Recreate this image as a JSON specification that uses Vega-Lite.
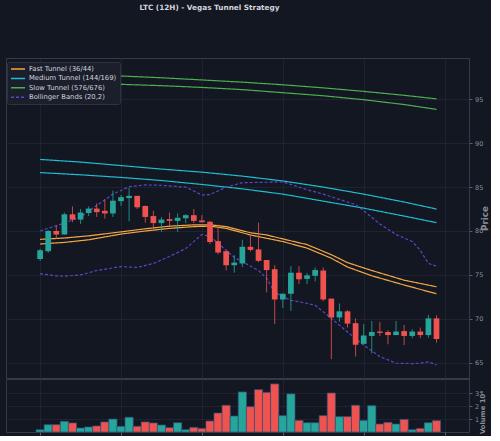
{
  "$schema": "https://vega.github.io/schema/vega-lite/v6.json",
  "background": "#131722",
  "padding": {"left": 5, "top": 4, "right": 0, "bottom": 0},
  "title": {"text": "LTC (12H) - Vegas Tunnel Strategy", "color": "#d1d4dc", "fontSize": 7.3, "fontWeight": "bold", "font": "DejaVu Sans", "anchor": "start", "dx": 134, "offset": 46},
  "spacing": -1,
  "config": {
    "view": {"stroke": "#363a45", "fill": "#131722"},
    "axis": {"labelFont": "DejaVu Sans", "titleFont": "DejaVu Sans", "labelColor": "#8a8d96", "titleColor": "#8a8d96", "labelFontSize": 6.5, "tickColor": "#5d606b", "tickSize": 3, "domainColor": "#363a45", "gridColor": "#232733", "gridWidth": 0.8},
    "legend": {"orient": "none", "legendX": 1, "legendY": 4, "fillColor": "#1b1f2b", "strokeColor": "#2e3240", "padding": 3, "labelColor": "#d1d4dc", "labelFontSize": 6.8, "labelFont": "DejaVu Sans", "symbolType": "M-1,0H3.67", "symbolSize": 36, "symbolStrokeWidth": 1.5, "rowPadding": 1.4, "labelOffset": 11, "cornerRadius": 2}
  },
  "datasets": {
    "candles": [
      {"i":0,"o":76.8,"h":77.95,"l":76.6,"c":77.8,"v":0.18},
      {"i":1,"o":77.7,"h":80.1,"l":77.5,"c":80.0,"v":0.57},
      {"i":2,"o":80.0,"h":80.6,"l":79.1,"c":79.6,"v":0.57},
      {"i":3,"o":79.6,"h":82.1,"l":79.6,"c":81.9,"v":0.83},
      {"i":4,"o":81.9,"h":82.8,"l":81.0,"c":81.3,"v":0.70},
      {"i":5,"o":81.3,"h":82.5,"l":80.8,"c":82.1,"v":0.31},
      {"i":6,"o":82.05,"h":82.8,"l":81.7,"c":82.55,"v":0.39},
      {"i":7,"o":82.55,"h":83.15,"l":81.6,"c":82.15,"v":0.47},
      {"i":8,"o":82.3,"h":83.6,"l":81.4,"c":82.0,"v":0.78},
      {"i":9,"o":82.0,"h":84.6,"l":81.6,"c":83.45,"v":1.0},
      {"i":10,"o":83.4,"h":84.1,"l":82.85,"c":83.85,"v":0.44},
      {"i":11,"o":83.75,"h":84.9,"l":81.1,"c":84.0,"v":1.14},
      {"i":12,"o":84.0,"h":84.0,"l":82.5,"c":82.7,"v":0.44},
      {"i":13,"o":82.85,"h":82.9,"l":80.95,"c":81.6,"v":0.78},
      {"i":14,"o":81.7,"h":82.3,"l":80.2,"c":80.9,"v":0.70},
      {"i":15,"o":80.9,"h":81.6,"l":79.9,"c":81.3,"v":0.54},
      {"i":16,"o":81.35,"h":82.1,"l":80.6,"c":81.15,"v":0.34},
      {"i":17,"o":81.15,"h":82.0,"l":79.9,"c":81.5,"v":0.72},
      {"i":18,"o":81.45,"h":81.9,"l":80.9,"c":81.8,"v":0.18},
      {"i":19,"o":81.8,"h":82.5,"l":80.9,"c":81.15,"v":0.36},
      {"i":20,"o":81.2,"h":81.8,"l":80.95,"c":81.0,"v":0.28},
      {"i":21,"o":81.05,"h":81.15,"l":78.5,"c":78.75,"v":0.85},
      {"i":22,"o":78.85,"h":80.75,"l":77.35,"c":77.55,"v":1.47},
      {"i":23,"o":77.7,"h":77.7,"l":75.5,"c":76.1,"v":2.07},
      {"i":24,"o":76.1,"h":77.25,"l":75.25,"c":76.4,"v":1.24},
      {"i":25,"o":76.3,"h":79.0,"l":75.9,"c":78.2,"v":3.1},
      {"i":26,"o":78.2,"h":79.5,"l":77.65,"c":77.85,"v":1.96},
      {"i":27,"o":77.9,"h":80.95,"l":76.45,"c":76.6,"v":3.28},
      {"i":28,"o":76.7,"h":76.7,"l":73.0,"c":75.55,"v":3.07},
      {"i":29,"o":75.65,"h":76.1,"l":69.4,"c":72.2,"v":3.72},
      {"i":30,"o":72.2,"h":72.9,"l":71.25,"c":72.85,"v":1.27},
      {"i":31,"o":72.85,"h":76.0,"l":70.9,"c":75.25,"v":2.95},
      {"i":32,"o":75.25,"h":76.0,"l":73.95,"c":74.5,"v":0.9},
      {"i":33,"o":74.55,"h":75.2,"l":73.95,"c":74.95,"v":0.72},
      {"i":34,"o":74.9,"h":75.85,"l":74.25,"c":75.55,"v":0.72},
      {"i":35,"o":75.5,"h":75.85,"l":72.0,"c":72.2,"v":1.27},
      {"i":36,"o":72.3,"h":72.3,"l":65.4,"c":70.15,"v":3.02},
      {"i":37,"o":70.15,"h":71.75,"l":69.65,"c":70.85,"v":1.19},
      {"i":38,"o":70.85,"h":71.0,"l":69.0,"c":69.45,"v":1.19},
      {"i":39,"o":69.5,"h":70.05,"l":65.7,"c":67.05,"v":2.07},
      {"i":40,"o":67.15,"h":69.4,"l":67.1,"c":68.1,"v":0.9},
      {"i":41,"o":68.05,"h":69.75,"l":66.05,"c":68.5,"v":2.04},
      {"i":42,"o":68.55,"h":69.65,"l":68.05,"c":68.4,"v":0.62},
      {"i":43,"o":68.5,"h":68.7,"l":67.1,"c":68.15,"v":0.75},
      {"i":44,"o":68.15,"h":69.75,"l":68.15,"c":68.55,"v":0.62},
      {"i":45,"o":68.6,"h":69.3,"l":67.0,"c":68.05,"v":0.98},
      {"i":46,"o":68.05,"h":68.8,"l":67.8,"c":68.55,"v":0.18},
      {"i":47,"o":68.55,"h":69.0,"l":67.8,"c":68.15,"v":0.28},
      {"i":48,"o":68.15,"h":70.45,"l":67.85,"c":70.05,"v":0.72},
      {"i":49,"o":70.05,"h":70.4,"l":67.3,"c":67.7,"v":0.88}
    ],
    "lines": [
      {"s":"Fast Tunnel (36/44)","k":"u","i":0,"v":79.05},
      {"s":"Fast Tunnel (36/44)","k":"u","i":3,"v":79.2},
      {"s":"Fast Tunnel (36/44)","k":"u","i":6,"v":79.45},
      {"s":"Fast Tunnel (36/44)","k":"u","i":10,"v":79.9},
      {"s":"Fast Tunnel (36/44)","k":"u","i":13,"v":80.25},
      {"s":"Fast Tunnel (36/44)","k":"u","i":16,"v":80.55},
      {"s":"Fast Tunnel (36/44)","k":"u","i":19,"v":80.7},
      {"s":"Fast Tunnel (36/44)","k":"u","i":21,"v":80.7},
      {"s":"Fast Tunnel (36/44)","k":"u","i":23,"v":80.5},
      {"s":"Fast Tunnel (36/44)","k":"u","i":26,"v":79.8},
      {"s":"Fast Tunnel (36/44)","k":"u","i":28,"v":79.55},
      {"s":"Fast Tunnel (36/44)","k":"u","i":30,"v":79.1},
      {"s":"Fast Tunnel (36/44)","k":"u","i":33,"v":78.45},
      {"s":"Fast Tunnel (36/44)","k":"u","i":36,"v":77.3},
      {"s":"Fast Tunnel (36/44)","k":"u","i":38,"v":76.4},
      {"s":"Fast Tunnel (36/44)","k":"u","i":41,"v":75.5},
      {"s":"Fast Tunnel (36/44)","k":"u","i":45,"v":74.4},
      {"s":"Fast Tunnel (36/44)","k":"u","i":49,"v":73.65},
      {"s":"Fast Tunnel (36/44)","k":"l","i":0,"v":78.52},
      {"s":"Fast Tunnel (36/44)","k":"l","i":3,"v":78.7},
      {"s":"Fast Tunnel (36/44)","k":"l","i":6,"v":79.0},
      {"s":"Fast Tunnel (36/44)","k":"l","i":10,"v":79.65},
      {"s":"Fast Tunnel (36/44)","k":"l","i":13,"v":80.0},
      {"s":"Fast Tunnel (36/44)","k":"l","i":16,"v":80.3},
      {"s":"Fast Tunnel (36/44)","k":"l","i":19,"v":80.5},
      {"s":"Fast Tunnel (36/44)","k":"l","i":21,"v":80.55},
      {"s":"Fast Tunnel (36/44)","k":"l","i":23,"v":80.3},
      {"s":"Fast Tunnel (36/44)","k":"l","i":26,"v":79.55},
      {"s":"Fast Tunnel (36/44)","k":"l","i":28,"v":79.17},
      {"s":"Fast Tunnel (36/44)","k":"l","i":30,"v":78.8},
      {"s":"Fast Tunnel (36/44)","k":"l","i":33,"v":78.05},
      {"s":"Fast Tunnel (36/44)","k":"l","i":36,"v":76.9},
      {"s":"Fast Tunnel (36/44)","k":"l","i":38,"v":75.9},
      {"s":"Fast Tunnel (36/44)","k":"l","i":41,"v":74.9},
      {"s":"Fast Tunnel (36/44)","k":"l","i":45,"v":73.85},
      {"s":"Fast Tunnel (36/44)","k":"l","i":49,"v":72.85},
      {"s":"Medium Tunnel (144/169)","k":"u","i":0,"v":88.15},
      {"s":"Medium Tunnel (144/169)","k":"u","i":5,"v":87.85},
      {"s":"Medium Tunnel (144/169)","k":"u","i":10,"v":87.45},
      {"s":"Medium Tunnel (144/169)","k":"u","i":15,"v":87.05},
      {"s":"Medium Tunnel (144/169)","k":"u","i":20,"v":86.7},
      {"s":"Medium Tunnel (144/169)","k":"u","i":25,"v":86.25},
      {"s":"Medium Tunnel (144/169)","k":"u","i":30,"v":85.7},
      {"s":"Medium Tunnel (144/169)","k":"u","i":35,"v":85.0},
      {"s":"Medium Tunnel (144/169)","k":"u","i":40,"v":84.2},
      {"s":"Medium Tunnel (144/169)","k":"u","i":45,"v":83.3},
      {"s":"Medium Tunnel (144/169)","k":"u","i":49,"v":82.5},
      {"s":"Medium Tunnel (144/169)","k":"l","i":0,"v":86.65},
      {"s":"Medium Tunnel (144/169)","k":"l","i":5,"v":86.4},
      {"s":"Medium Tunnel (144/169)","k":"l","i":10,"v":86.1},
      {"s":"Medium Tunnel (144/169)","k":"l","i":15,"v":85.75},
      {"s":"Medium Tunnel (144/169)","k":"l","i":20,"v":85.3},
      {"s":"Medium Tunnel (144/169)","k":"l","i":25,"v":84.8},
      {"s":"Medium Tunnel (144/169)","k":"l","i":30,"v":84.2},
      {"s":"Medium Tunnel (144/169)","k":"l","i":35,"v":83.4},
      {"s":"Medium Tunnel (144/169)","k":"l","i":40,"v":82.6},
      {"s":"Medium Tunnel (144/169)","k":"l","i":45,"v":81.7},
      {"s":"Medium Tunnel (144/169)","k":"l","i":49,"v":80.95},
      {"s":"Slow Tunnel (576/676)","k":"u","i":0,"v":97.9},
      {"s":"Slow Tunnel (576/676)","k":"u","i":5,"v":97.8},
      {"s":"Slow Tunnel (576/676)","k":"u","i":10,"v":97.65},
      {"s":"Slow Tunnel (576/676)","k":"u","i":15,"v":97.45},
      {"s":"Slow Tunnel (576/676)","k":"u","i":20,"v":97.2},
      {"s":"Slow Tunnel (576/676)","k":"u","i":25,"v":96.95},
      {"s":"Slow Tunnel (576/676)","k":"u","i":30,"v":96.65},
      {"s":"Slow Tunnel (576/676)","k":"u","i":35,"v":96.3},
      {"s":"Slow Tunnel (576/676)","k":"u","i":40,"v":95.9},
      {"s":"Slow Tunnel (576/676)","k":"u","i":45,"v":95.45},
      {"s":"Slow Tunnel (576/676)","k":"u","i":49,"v":95.05},
      {"s":"Slow Tunnel (576/676)","k":"l","i":0,"v":96.9},
      {"s":"Slow Tunnel (576/676)","k":"l","i":5,"v":96.82},
      {"s":"Slow Tunnel (576/676)","k":"l","i":10,"v":96.7},
      {"s":"Slow Tunnel (576/676)","k":"l","i":15,"v":96.55},
      {"s":"Slow Tunnel (576/676)","k":"l","i":20,"v":96.35},
      {"s":"Slow Tunnel (576/676)","k":"l","i":25,"v":96.1},
      {"s":"Slow Tunnel (576/676)","k":"l","i":30,"v":95.75},
      {"s":"Slow Tunnel (576/676)","k":"l","i":35,"v":95.4},
      {"s":"Slow Tunnel (576/676)","k":"l","i":40,"v":94.95},
      {"s":"Slow Tunnel (576/676)","k":"l","i":45,"v":94.4},
      {"s":"Slow Tunnel (576/676)","k":"l","i":49,"v":93.85},
      {"s":"Bollinger Bands (20,2)","k":"u","i":0,"v":80.0},
      {"s":"Bollinger Bands (20,2)","k":"u","i":3,"v":80.9},
      {"s":"Bollinger Bands (20,2)","k":"u","i":5,"v":81.6},
      {"s":"Bollinger Bands (20,2)","k":"u","i":7,"v":82.9},
      {"s":"Bollinger Bands (20,2)","k":"u","i":9,"v":84.2},
      {"s":"Bollinger Bands (20,2)","k":"u","i":11,"v":85.05},
      {"s":"Bollinger Bands (20,2)","k":"u","i":13,"v":85.25},
      {"s":"Bollinger Bands (20,2)","k":"u","i":15,"v":85.2},
      {"s":"Bollinger Bands (20,2)","k":"u","i":18,"v":85.0},
      {"s":"Bollinger Bands (20,2)","k":"u","i":20,"v":84.1},
      {"s":"Bollinger Bands (20,2)","k":"u","i":21,"v":84.15},
      {"s":"Bollinger Bands (20,2)","k":"u","i":23,"v":85.0},
      {"s":"Bollinger Bands (20,2)","k":"u","i":25,"v":85.5},
      {"s":"Bollinger Bands (20,2)","k":"u","i":28,"v":85.55},
      {"s":"Bollinger Bands (20,2)","k":"u","i":30,"v":85.6},
      {"s":"Bollinger Bands (20,2)","k":"u","i":31,"v":85.3},
      {"s":"Bollinger Bands (20,2)","k":"u","i":33,"v":84.7},
      {"s":"Bollinger Bands (20,2)","k":"u","i":35,"v":84.2},
      {"s":"Bollinger Bands (20,2)","k":"u","i":37,"v":83.6},
      {"s":"Bollinger Bands (20,2)","k":"u","i":39,"v":83.0},
      {"s":"Bollinger Bands (20,2)","k":"u","i":40,"v":82.3},
      {"s":"Bollinger Bands (20,2)","k":"u","i":42,"v":80.8},
      {"s":"Bollinger Bands (20,2)","k":"u","i":44,"v":79.6},
      {"s":"Bollinger Bands (20,2)","k":"u","i":46,"v":78.8},
      {"s":"Bollinger Bands (20,2)","k":"u","i":47,"v":77.8},
      {"s":"Bollinger Bands (20,2)","k":"u","i":48,"v":76.3},
      {"s":"Bollinger Bands (20,2)","k":"u","i":49,"v":76.0},
      {"s":"Bollinger Bands (20,2)","k":"l","i":0,"v":75.14},
      {"s":"Bollinger Bands (20,2)","k":"l","i":2,"v":74.9},
      {"s":"Bollinger Bands (20,2)","k":"l","i":3,"v":74.85},
      {"s":"Bollinger Bands (20,2)","k":"l","i":5,"v":75.0},
      {"s":"Bollinger Bands (20,2)","k":"l","i":7,"v":75.5},
      {"s":"Bollinger Bands (20,2)","k":"l","i":10,"v":75.95},
      {"s":"Bollinger Bands (20,2)","k":"l","i":12,"v":75.85},
      {"s":"Bollinger Bands (20,2)","k":"l","i":14,"v":76.3},
      {"s":"Bollinger Bands (20,2)","k":"l","i":16,"v":77.1},
      {"s":"Bollinger Bands (20,2)","k":"l","i":18,"v":78.0},
      {"s":"Bollinger Bands (20,2)","k":"l","i":20,"v":79.6},
      {"s":"Bollinger Bands (20,2)","k":"l","i":21,"v":79.4},
      {"s":"Bollinger Bands (20,2)","k":"l","i":22,"v":78.6},
      {"s":"Bollinger Bands (20,2)","k":"l","i":24,"v":77.0},
      {"s":"Bollinger Bands (20,2)","k":"l","i":27,"v":75.5},
      {"s":"Bollinger Bands (20,2)","k":"l","i":28,"v":74.6},
      {"s":"Bollinger Bands (20,2)","k":"l","i":29,"v":73.0},
      {"s":"Bollinger Bands (20,2)","k":"l","i":31,"v":72.1},
      {"s":"Bollinger Bands (20,2)","k":"l","i":32,"v":71.95},
      {"s":"Bollinger Bands (20,2)","k":"l","i":34,"v":71.55},
      {"s":"Bollinger Bands (20,2)","k":"l","i":36,"v":70.05},
      {"s":"Bollinger Bands (20,2)","k":"l","i":38,"v":68.5},
      {"s":"Bollinger Bands (20,2)","k":"l","i":40,"v":67.0},
      {"s":"Bollinger Bands (20,2)","k":"l","i":42,"v":65.7},
      {"s":"Bollinger Bands (20,2)","k":"l","i":44,"v":64.95},
      {"s":"Bollinger Bands (20,2)","k":"l","i":46,"v":64.9},
      {"s":"Bollinger Bands (20,2)","k":"l","i":47,"v":64.95},
      {"s":"Bollinger Bands (20,2)","k":"l","i":48,"v":65.1},
      {"s":"Bollinger Bands (20,2)","k":"l","i":49,"v":64.75}
    ]
  },
  "vconcat": [
    {
      "width": 463,
      "height": 320,
      "layer": [
        {
          "data": {"name": "lines"},
          "mark": {"type": "line", "strokeWidth": 1.2, "clip": true},
          "encoding": {
            "x": {"field": "i", "type": "quantitative", "scale": {"domain": [-3.6, 52.4], "nice": false, "zero": false}, "axis": {"orient": "top", "grid": true, "values": [0, 10, 20, 30, 40, 50], "labels": false, "ticks": false, "domain": false, "title": null}},
            "y": {"field": "v", "type": "quantitative", "scale": {"domain": [63.26, 99.7], "nice": false, "zero": false}, "axis": {"orient": "right", "values": [65, 70, 75, 80, 85, 90, 95], "grid": true, "title": "Price", "titleAngle": 270, "titleFontSize": 8.8, "titleFontWeight": "bold", "titlePadding": 7, "labelPadding": 2.5}},
            "color": {"field": "s", "type": "nominal", "scale": {"domain": ["Fast Tunnel (36/44)", "Medium Tunnel (144/169)", "Slow Tunnel (576/676)", "Bollinger Bands (20,2)"], "range": ["#f5a742", "#1fbcd2", "#4caf50", "#5e45c8"]}, "legend": {"title": null}},
            "strokeDash": {"field": "s", "type": "nominal", "scale": {"domain": ["Fast Tunnel (36/44)", "Medium Tunnel (144/169)", "Slow Tunnel (576/676)", "Bollinger Bands (20,2)"], "range": [[1, 0], [1, 0], [1, 0], [3, 2]]}, "legend": {"title": null}},
            "detail": {"field": "k", "type": "nominal"}
          }
        },
        {
          "data": {"name": "candles"},
          "mark": {"type": "rule", "strokeWidth": 1, "opacity": 0.8},
          "encoding": {
            "x": {"field": "i", "type": "quantitative"},
            "y": {"field": "l", "type": "quantitative"},
            "y2": {"field": "h"},
            "color": {"condition": {"test": "datum.c >= datum.o", "value": "#26a69a"}, "value": "#ef5350"}
          }
        },
        {
          "data": {"name": "candles"},
          "mark": {"type": "bar", "width": 5.7},
          "encoding": {
            "x": {"field": "i", "type": "quantitative"},
            "y": {"field": "o", "type": "quantitative"},
            "y2": {"field": "c"},
            "color": {"condition": {"test": "datum.c >= datum.o", "value": "#26a69a"}, "value": "#ef5350"}
          }
        }
      ],
      "resolve": {"scale": {"color": "independent", "strokeDash": "independent"}}
    },
    {
      "width": 463,
      "height": 53,
      "data": {"name": "candles"},
      "mark": {"type": "bar", "width": 8.27, "stroke": "#2a4d7a", "strokeWidth": 0.7},
      "encoding": {
        "x": {"field": "i", "type": "quantitative", "scale": {"domain": [-3.6, 52.4], "nice": false, "zero": false}, "axis": {"grid": true, "values": [0, 10, 20, 30, 40, 50], "labels": false, "ticks": true, "domain": false, "title": null}},
        "y": {"field": "v", "type": "quantitative", "scale": {"domain": [0, 4.1], "nice": false}, "axis": {"orient": "right", "values": [1, 2, 3], "grid": true, "title": "Volume  10⁶", "titleAngle": 270, "titleFontSize": 6.8, "titleFontWeight": "bold", "titlePadding": 7, "titleY": 33, "titleAlign": "center", "labelPadding": 2.5}},
        "color": {"condition": {"test": "datum.c >= datum.o", "value": "#26a69a"}, "value": "#ef5350"}
      }
    }
  ]
}
